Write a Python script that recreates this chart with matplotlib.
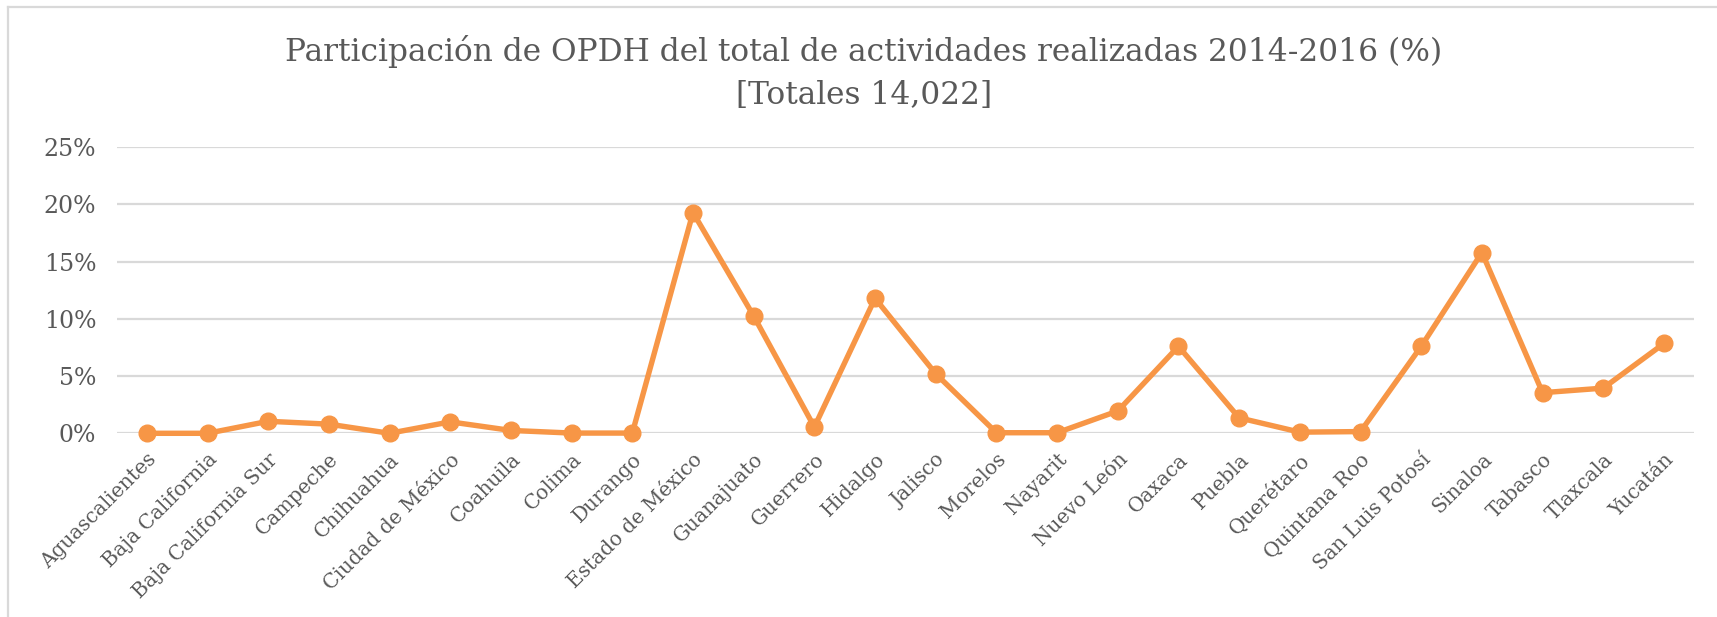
import matplotlib
matplotlib.use("Agg")
import matplotlib.pyplot as plt
from matplotlib.ticker import FuncFormatter
from matplotlib.lines import Line2D

estados = ["Aguascalientes", "Baja California", "Baja California Sur", "Campeche",
           "Chihuahua", "Ciudad de México", "Coahuila", "Colima", "Durango",
           "Estado de México", "Guanajuato", "Guerrero", "Hidalgo", "Jalisco",
           "Morelos", "Nayarit", "Nuevo León", "Oaxaca", "Puebla", "Querétaro",
           "Quintana Roo", "San Luis Potosí", "Sinaloa", "Tabasco", "Tlaxcala", "Yucatán"]
participacion = [0.0, 0.0, 1.05, 0.8, 0.0, 1.0, 0.25, 0.02, 0.02, 19.3, 10.25, 0.55,
                 11.8, 5.2, 0.05, 0.05, 1.95, 7.6, 1.35, 0.1, 0.15, 7.6, 15.8, 3.55,
                 3.95, 7.85]
yticks = [0, 5, 10, 15, 20, 25]
titulo = "Participación de OPDH del total de actividades realizadas 2014-2016 (%)\n[Totales 14,022]"

W, H = 1717, 617
fig = plt.figure(figsize=(W / 100, H / 100), dpi=100)
fig.patch.set_facecolor("white")

serif = ["DejaVu Serif"]
txt = "#595959"
grid = "#D9D9D9"
orange = "#F79646"

left, right = 116.5 / W, 1694.3 / W
bottom, top = 1 - 433.3 / H, 1 - 147.3 / H
ax = fig.add_axes([left, bottom, right - left, top - bottom])

x = list(range(len(estados)))
ax.plot(x, participacion, color=orange, lw=3.9, marker="o", ms=12,
        solid_joinstyle="round", zorder=3, clip_on=False)

ax.set_xlim(-0.5, len(estados) - 0.5)
ax.set_ylim(0, 25)
ax.set_yticks(yticks)
ax.yaxis.set_major_formatter(FuncFormatter(lambda v, p: f"{int(v)}%"))
ax.yaxis.grid(True, color=grid, lw=1.6, zorder=0)
ax.set_axisbelow(True)
for s in ax.spines.values():
    s.set_visible(False)
ax.tick_params(axis="both", length=0)
ax.tick_params(axis="y", pad=14.5, labelsize=17, labelcolor=txt)
ax.set_xticks(x)
ax.set_xticklabels(estados, rotation=45, ha="right", va="top",
                   rotation_mode="anchor", fontsize=14.5, color=txt, family=serif)
ax.tick_params(axis="x", pad=12)
for lab in ax.get_yticklabels():
    lab.set_family(serif)

fig.text(864 / W, 1 - 73.5 / H, titulo, ha="center", va="center", fontsize=22.5,
         color=txt, family=serif, linespacing=1.5)

# chart area border (top and left visible)
fig.add_artist(Line2D([7.5 / W, 1], [1 - 6.5 / H, 1 - 6.5 / H], color=grid, lw=1.6,
                      transform=fig.transFigure))
fig.add_artist(Line2D([7.5 / W, 7.5 / W], [0, 1 - 6.5 / H], color=grid, lw=1.6,
                      transform=fig.transFigure))

fig.savefig("out.png", dpi=100, facecolor="white")
